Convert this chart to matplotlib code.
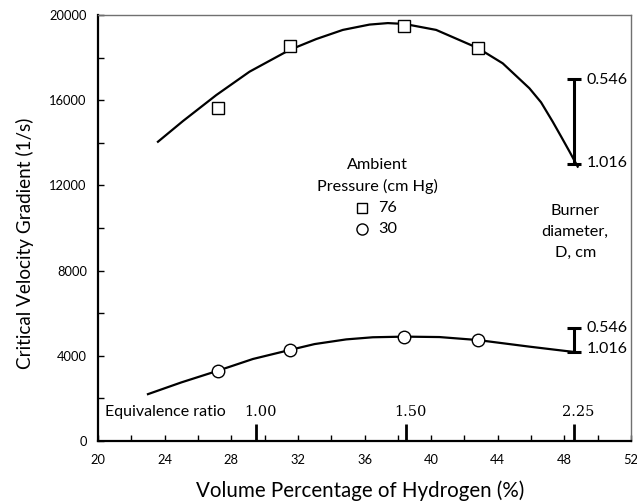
import matplotlib
matplotlib.use("Agg")
import matplotlib.pyplot as plt
from matplotlib.ticker import MultipleLocator

plt.rcParams['font.family'] = ['Lato', 'DejaVu Sans']

# ---- data ----
h2_76 = [27.2, 31.5, 38.4, 42.8]
grad_76 = [15650, 18550, 19480, 18430]
h2_30 = [27.2, 31.5, 38.4, 42.8]
grad_30 = [3300, 4270, 4890, 4740]

curve76_x = [23.6, 25.1, 27.1, 29.1, 31.5, 33.1, 34.7, 36.3, 37.4, 38.4, 40.3, 42.8, 44.3, 45.9, 46.6, 47.3, 47.8, 48.3, 48.8]
curve76_y = [14050, 15020, 16240, 17340, 18360, 18870, 19300, 19550, 19620, 19580, 19300, 18450, 17730, 16560, 15900, 14990, 14300, 13600, 12880]

curve30_x = [23.0, 25.0, 27.2, 29.3, 31.5, 33.0, 34.9, 36.5, 38.4, 40.5, 42.8, 44.5, 45.9, 47.5, 48.9]
curve30_y = [2200, 2750, 3300, 3850, 4270, 4550, 4770, 4870, 4900, 4880, 4740, 4570, 4430, 4280, 4150]

bar_x = [48.6, 48.6]
bar_lo = [13000, 4200]
bar_hi = [17000, 5300]
bar_labels_hi = ["0.546", "0.546"]
bar_labels_lo = ["1.016", "1.016"]
bar_label_y_hi = [16950, 5300]
bar_label_y_lo = [13050, 4320]

eq_x = [29.5, 38.5, 48.6]
eq_labels = ["1.00", "1.50", "2.25"]
eq_tick_h = 800

legend_labels = ["76", "30"]

fig = plt.figure(figsize=(6.37, 5.04), dpi=100)
ax = fig.add_axes([98/637, 1-441/504, 533/637, 426/504])

ax.plot(curve76_x, curve76_y, color='black', lw=1.6, solid_joinstyle='round', zorder=2)
ax.plot(curve30_x, curve30_y, color='black', lw=1.6, solid_joinstyle='round', zorder=2)
ax.plot(h2_76, grad_76, linestyle='none', marker='s', ms=8, mfc='white', mec='black', mew=1.0, zorder=3)
ax.plot(h2_30, grad_30, linestyle='none', marker='o', ms=9, mfc='white', mec='black', mew=1.0, zorder=3)

for bx, lo, hi, lh, ll, yh, yl in zip(bar_x, bar_lo, bar_hi, bar_labels_hi, bar_labels_lo,
                                      bar_label_y_hi, bar_label_y_lo):
    ax.errorbar([bx], [(lo + hi) / 2], yerr=[(hi - lo) / 2], fmt='none', ecolor='black',
                elinewidth=2.2, capsize=4.8, capthick=2.2, zorder=2)
    ax.text(bx + 0.75, yh, lh, fontsize=11.5, ha='left', va='center')
    ax.text(bx + 0.75, yl, ll, fontsize=11.5, ha='left', va='center')

# equivalence ratio scale
for ex, el in zip(eq_x, eq_labels):
    ax.plot([ex, ex], [0, eq_tick_h], color='black', lw=2.0, solid_capstyle='butt', zorder=2)
    ax.annotate(el, (ex, 1360), xytext=(3, 0), textcoords='offset points',
                ha='center', va='center', fontsize=10.5, family='DejaVu Serif')
ax.text(20.4, 1360, "Equivalence ratio", fontsize=11.5, ha='left', va='center')

# legend
ax.text(36.75, 12960, "Ambient", fontsize=11.7, ha='center', va='center')
ax.text(36.75, 11930, "Pressure (cm Hg)", fontsize=11.7, ha='center', va='center')
ax.plot([35.84], [10940], linestyle='none', marker='s', ms=7, mfc='white', mec='black', mew=1.0)
ax.plot([35.84], [9950], linestyle='none', marker='o', ms=8, mfc='white', mec='black', mew=1.0)
ax.text(36.8, 10940, legend_labels[0], fontsize=11.7, ha='left', va='center')
ax.text(36.8, 9950, legend_labels[1], fontsize=11.7, ha='left', va='center')

# burner annotation
ax.text(48.65, 10800, "Burner", fontsize=11.7, ha='center', va='center')
ax.text(48.65, 9810, "diameter,", fontsize=11.7, ha='center', va='center')
ax.text(48.65, 8830, "D, cm", fontsize=11.7, ha='center', va='center')

ax.set_xlim(20, 52)
ax.set_ylim(0, 20000)
ax.xaxis.set_major_locator(MultipleLocator(4))
ax.xaxis.set_minor_locator(MultipleLocator(2))
ax.yaxis.set_major_locator(MultipleLocator(4000))
ax.yaxis.set_minor_locator(MultipleLocator(2000))
ax.tick_params(which='both', direction='in', length=4, width=1.0, labelsize=9.3,
               top=False, right=False)
ax.tick_params(axis='x', pad=9)
ax.tick_params(axis='y', pad=8)

for s in ['left', 'bottom']:
    ax.spines[s].set_linewidth(1.6)
    ax.spines[s].set_color('black')
for s in ['top', 'right']:
    ax.spines[s].set_linewidth(1.0)
    ax.spines[s].set_color('#707070')

ax.set_xlabel("Volume Percentage of Hydrogen (%)", fontsize=14.8)
ax.set_ylabel("Critical Velocity Gradient (1/s)", fontsize=13.6)
ax.xaxis.set_label_coords(0.492, -0.092)
ax.yaxis.set_label_coords(-0.12, 0.465)

fig.savefig("out.png", dpi=100)
